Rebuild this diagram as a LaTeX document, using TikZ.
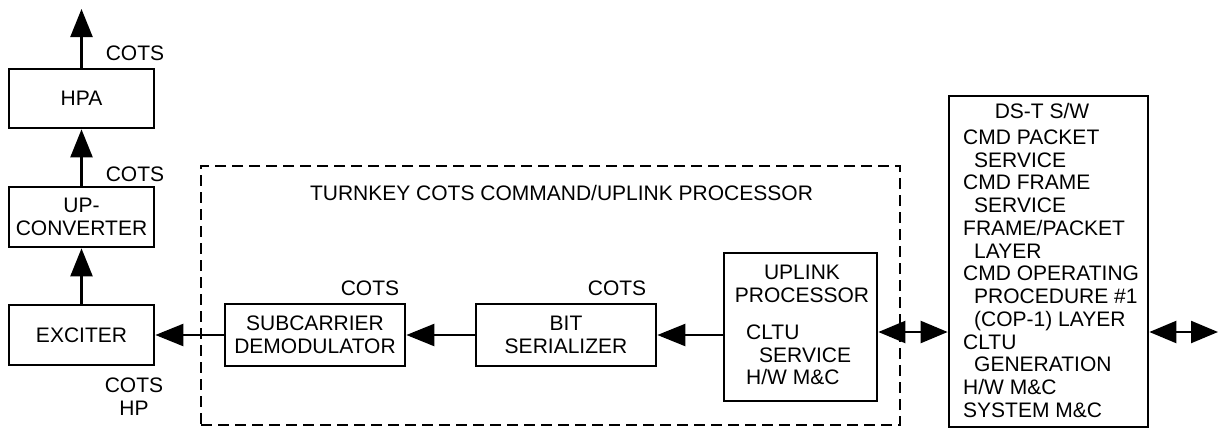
\documentclass[tikz,border=0pt]{standalone}
\usepackage{fontspec}
\setmainfont{Liberation Sans}
\usetikzlibrary{arrows.meta}
\begin{document}
\begin{tikzpicture}[x=1pt,y=-1pt,
  every node/.style={font=\fontsize{21}{22.75}\selectfont, inner sep=0pt},
  blk/.style={draw, line width=2.7pt, minimum width=#1},
  lbl/.style={align=center},
  arr/.style={line width=2.3pt, -{Triangle[length=28pt,width=22pt]}},
  darr/.style={line width=2.3pt, {Triangle[length=27pt,width=22pt]}-{Triangle[length=27pt,width=22pt]}},
  grp/.style={draw, line width=2.2pt, dash pattern=on 11pt off 6pt}]
\useasboundingbox (0,0) rectangle (1221,429);

% processor group outline
\node[grp, minimum width=699pt, minimum height=259pt] (cup) at (550.5,295.5) {};
\node[lbl] (cuptitle) at (561.5,192.5) {TURNKEY COTS COMMAND/UPLINK PROCESSOR};

% RF chain
\node[blk=145pt, minimum height=59pt] (hpa) at (81.5,98.5) {HPA};
\node[blk=145pt, minimum height=60pt, lbl] (upc) at (81.5,217) {UP-\\CONVERTER};
\node[blk=145pt, minimum height=60pt] (exc) at (81.5,335) {EXCITER};
\node (hpacots) at (135,53) {COTS};
\node (upccots) at (135,174) {COTS};
\node[lbl] (exccots) at (134,397) {COTS\\HP};

% uplink processor chain
\node[blk=180pt, minimum height=62pt, lbl] (sub) at (315,335) {SUBCARRIER\\DEMODULATOR};
\node[blk=180pt, minimum height=62pt, lbl] (bit) at (566,335) {BIT\\SERIALIZER};
\node (subcots) at (370,288.5) {COTS};
\node (bitcots) at (617,288.5) {COTS};
\node[blk=153pt, minimum height=148pt] (upl) at (800.5,327) {};
\node[lbl] (upltitle) at (802,284) {UPLINK\\PROCESSOR};
\node[align=left, anchor=north west] (upltext) at (746,324.5)
  {CLTU\\\hspace*{13pt}SERVICE\\H/W M\&C};

% DS-T software box
\node[blk=199pt, minimum height=331pt] (dst) at (1048.5,261.5) {};
\node (dsttitle) at (1042,111) {DS-T S/W};
\node[align=left, anchor=north west] (dsttext) at (963,129.5)
  {CMD PACKET\\
   \hspace*{11pt}SERVICE\\
   CMD FRAME\\
   \hspace*{11pt}SERVICE\\
   FRAME/PACKET\\
   \hspace*{11pt}LAYER\\
   CMD OPERATING\\
   \hspace*{11pt}PROCEDURE \#1\\
   \hspace*{11pt}(COP-1) LAYER\\
   CLTU\\
   \hspace*{11pt}GENERATION\\
   H/W M\&C\\
   SYSTEM M\&C};

% connectors
\coordinate (rfout) at (81.5,9);
\coordinate (bus) at (0,332);
\coordinate (ext) at (1218,332);
\draw[arr] (hpa.north) -- (rfout);
\draw[arr] (upc.north) -- (hpa.south);
\draw[arr] (exc.north) -- (upc.south);
\draw[arr] (sub.west) -- (exc.east);
\draw[arr] (bit.west) -- (sub.east);
\draw[arr] (upl.west |- bit.east) -- (bit.east);
\draw[darr] (upl.east |- bus) -- (dst.west |- bus);
\draw[darr] (dst.east |- bus) -- (ext);
\end{tikzpicture}
\end{document}
